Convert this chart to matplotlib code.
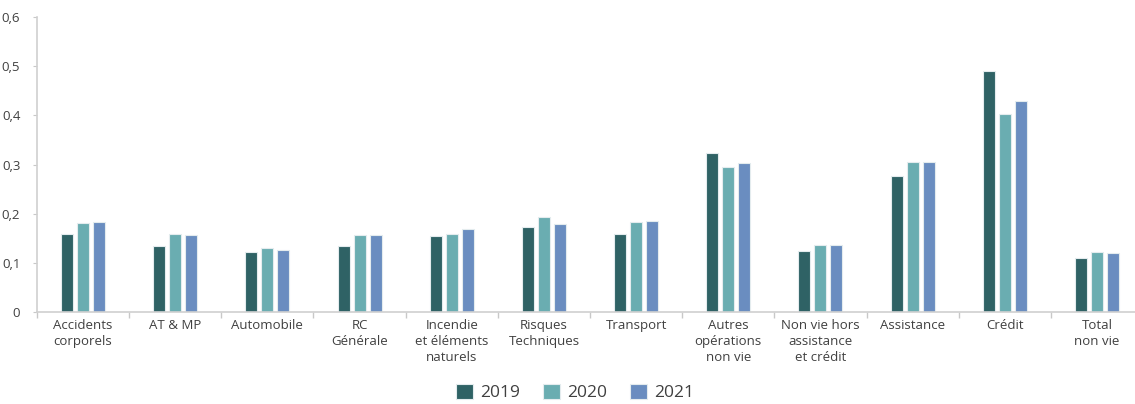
import matplotlib.pyplot as plt
import numpy as np
from matplotlib.ticker import FuncFormatter, FixedLocator

# Data
categories = ["Accidents\ncorporels", "AT & MP", "Automobile", "RC\nGénérale",
              "Incendie\net éléments\nnaturels", "Risques\nTechniques", "Transport",
              "Autres\nopérations\nnon vie", "Non vie hors\nassistance\net crédit",
              "Assistance", "Crédit", "Total\nnon vie"]
v2019 = [0.159, 0.134, 0.122, 0.134, 0.154, 0.172, 0.158, 0.323, 0.124, 0.277, 0.491, 0.110]
v2020 = [0.181, 0.159, 0.130, 0.156, 0.158, 0.193, 0.183, 0.294, 0.137, 0.305, 0.402, 0.123]
v2021 = [0.183, 0.156, 0.126, 0.156, 0.169, 0.180, 0.186, 0.304, 0.137, 0.305, 0.429, 0.120]
years = ["2019", "2020", "2021"]
colors = ["#2f6265", "#6aadb1", "#6a8dc0"]

plt.rcParams['font.family'] = ['Open Sans', 'DejaVu Sans']

W, H = 1135, 404
fig = plt.figure(figsize=(W / 100, H / 100), dpi=100)
ax = fig.add_axes([37 / W, (H - 312) / H, (1143 - 37) / W, (312 - 17) / H])

x = np.arange(len(categories))
width = 0.13
pitch = 0.174
for i, (vals, yr, c) in enumerate(zip([v2019, v2020, v2021], years, colors)):
    ax.bar(x + (i - 1) * pitch, vals, width, color=c, edgecolor="#e4ecee",
           linewidth=0.8, label=yr)

ax.set_xlim(-0.5, len(categories) - 0.5)
ax.set_ylim(0, 0.6)
ax.set_yticks(np.arange(0, 0.61, 0.1))
ax.yaxis.set_major_formatter(FuncFormatter(lambda v, p: "0" if v == 0 else f"{v:.1f}".replace(".", ",")))

ax.set_xticks(x)
ax.set_xticklabels(categories, fontsize=9.5, color="#404040", linespacing=1.3)
ax.tick_params(axis="x", length=0, pad=5)
ax.xaxis.set_minor_locator(FixedLocator(np.arange(-0.5, len(categories), 1)))
ax.tick_params(axis="x", which="minor", length=4, color="#c8c8c8", width=1)
ax.tick_params(axis="y", length=3, color="#c8c8c8", labelsize=9.5, labelcolor="#404040", pad=9)

for s in ["top", "right"]:
    ax.spines[s].set_visible(False)
for s in ["left", "bottom"]:
    ax.spines[s].set_color("#d0d0d0")
    ax.spines[s].set_linewidth(1.2)

fig.legend(loc="lower center", bbox_to_anchor=(575 / W, -0.015), ncol=3, frameon=False,
           fontsize=12.5, handlelength=1.0, handleheight=1.0, handletextpad=0.4,
           columnspacing=1.3, borderaxespad=0.1, labelcolor="#404040")

fig.savefig("out.png", dpi=100)
